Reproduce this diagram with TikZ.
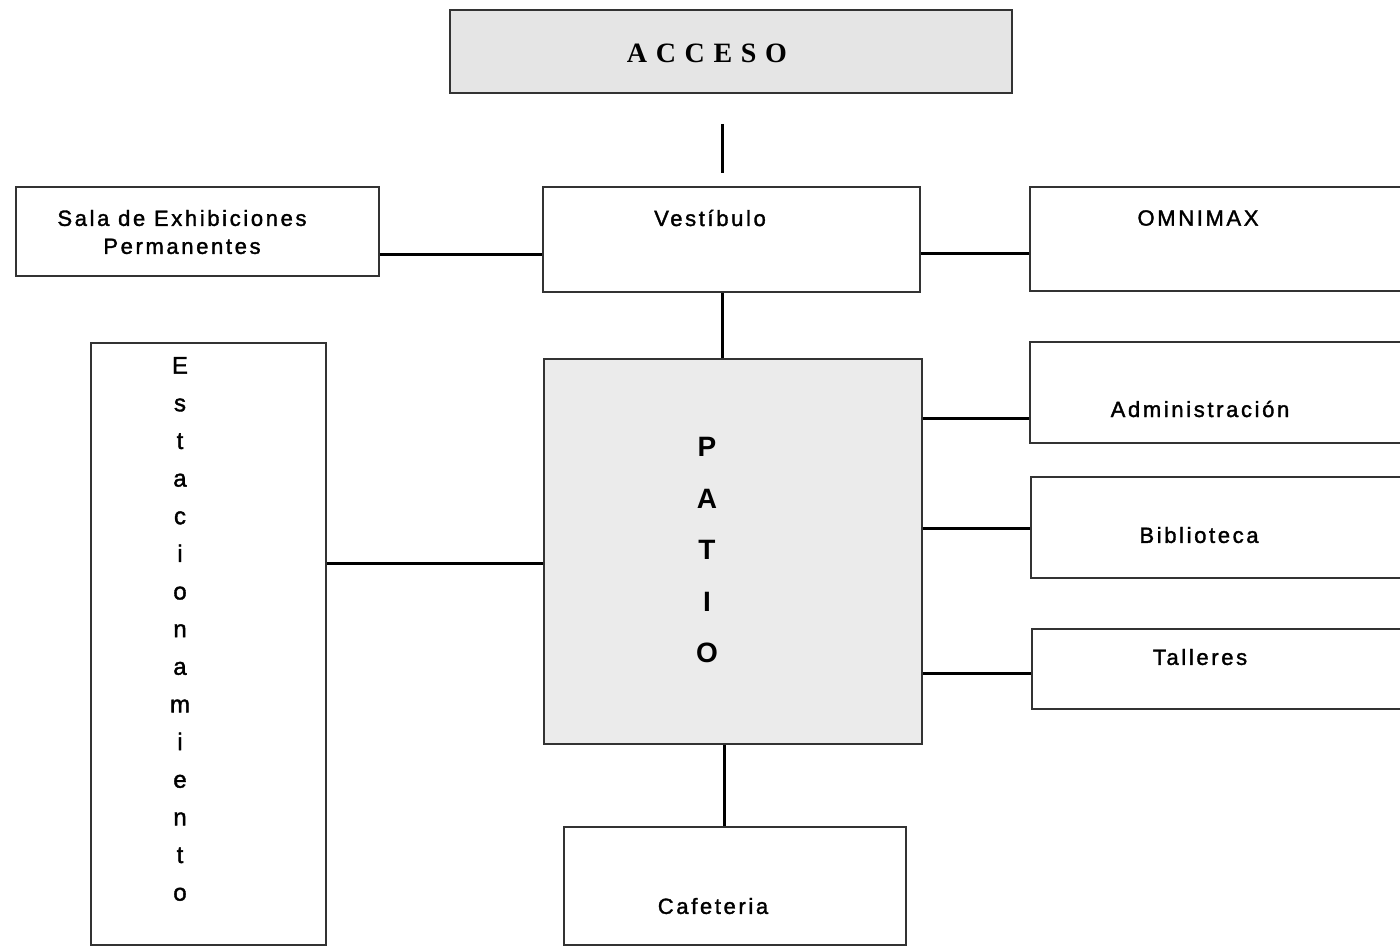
\documentclass[tikz,border=0pt]{standalone}
\usepackage{fontspec}
\setmainfont{Liberation Sans}
\newfontfamily\accfont[LetterSpace=31]{Liberation Serif}
\newfontfamily\lblfont[LetterSpace=12,FakeBold=1.6]{Liberation Sans}
\newfontfamily\vertfont[FakeBold=1.6]{Liberation Sans}
\begin{document}
\begin{tikzpicture}[x=1pt,y=-1pt,
  box/.style={draw=black!80, line width=1.8pt, inner sep=0pt, anchor=north west},
  conn/.style={draw=black, line width=3pt},
  lbl/.style={inner sep=0pt, font=\lblfont\fontsize{22}{28}\selectfont, align=center, text=black}]
\useasboundingbox (0,0) rectangle (1400,946);
\clip (0,0) rectangle (1400,946);
\fill[white] (0,0) rectangle (1400,946);

% boxes
\node[box, fill=black!10, minimum width=562pt, minimum height=83pt] (acc) at (449,9) {};
\node[box, minimum width=377pt, minimum height=105pt] (vest) at (542,186) {};
\node[box, minimum width=363pt, minimum height=89pt] (sala) at (15,186) {};
\node[box, minimum width=450pt, minimum height=104pt] (omni) at (1029,186) {};
\node[box, fill=black!8, minimum width=378pt, minimum height=385pt] (patio) at (543,358) {};
\node[box, minimum width=450pt, minimum height=101pt] (adm) at (1029,341) {};
\node[box, minimum width=450pt, minimum height=101pt] (bib) at (1030,476) {};
\node[box, minimum width=450pt, minimum height=80pt] (tal) at (1031,628) {};
\node[box, minimum width=235pt, minimum height=602pt] (est) at (90,342) {};
\node[box, minimum width=342pt, minimum height=118pt] (caf) at (563,826) {};

% texts
\node[inner sep=0pt, font=\accfont\bfseries\fontsize{28}{30}\selectfont] (accT) at (707,53) {ACCESO};
\node[lbl] (vestT) at (710,218) {Vestíbulo};
\node[lbl] (salaT) at (182,232) {Sala de Exhibiciones\\Permanentes};
\node[lbl] (omniT) at (1198,218) {OMNIMAX};
\node[lbl] (admT) at (1200,409) {Administración};
\node[lbl] (bibT) at (1199,535) {Biblioteca};
\node[lbl] (talT) at (1200,657) {Talleres};
\node[lbl] (cafT) at (713,906) {Cafeteria};
\node[inner sep=0pt, align=center, font=\bfseries\fontsize{28}{51.5}\selectfont] (patT) at (707,550) {P\\A\\T\\I\\O};
\node[inner sep=0pt, align=center, font=\vertfont\fontsize{24}{37.64}\selectfont] (estT) at (180,629) {E\\s\\t\\a\\c\\i\\o\\n\\a\\m\\i\\e\\n\\t\\o};

% connector guide coordinates
\coordinate (cx) at (722,0);
\coordinate (cx2) at (724,0);
\coordinate (r1) at (0,254);
\coordinate (r2) at (0,253);
\coordinate (r3) at (0,563);
\coordinate (r4) at (0,418);
\coordinate (r5) at (0,528);
\coordinate (r6) at (0,673);

% connectors
\draw[conn, shorten <=30pt, shorten >=13pt] (acc.south -| cx) -- (vest.north -| cx);
\draw[conn] (vest.south -| cx) -- (patio.north -| cx);
\draw[conn] (patio.south -| cx2) -- (caf.north -| cx2);
\draw[conn] (sala.east |- r1) -- (vest.west |- r1);
\draw[conn] (vest.east |- r2) -- (omni.west |- r2);
\draw[conn] (est.east |- r3) -- (patio.west |- r3);
\draw[conn] (patio.east |- r4) -- (adm.west |- r4);
\draw[conn] (patio.east |- r5) -- (bib.west |- r5);
\draw[conn] (patio.east |- r6) -- (tal.west |- r6);
\end{tikzpicture}
\end{document}
